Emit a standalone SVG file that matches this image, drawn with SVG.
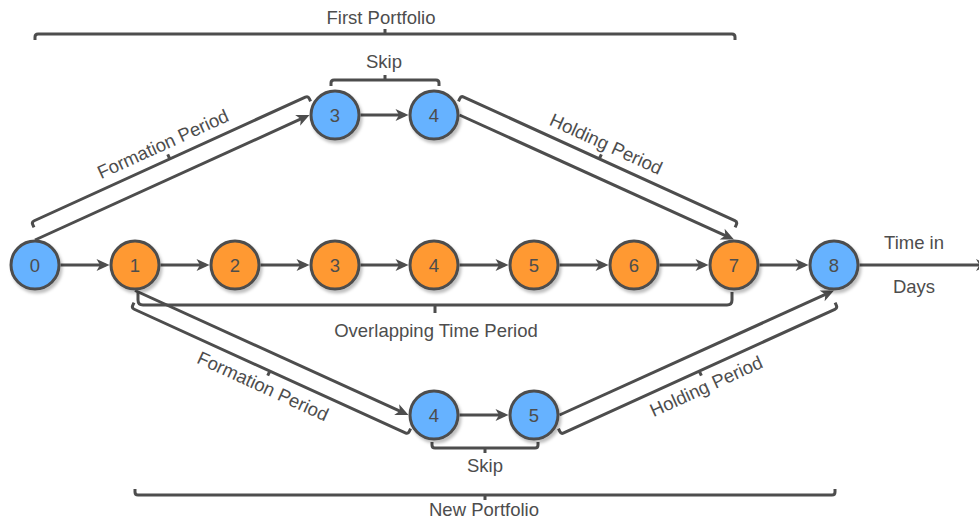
<svg xmlns="http://www.w3.org/2000/svg" width="979" height="523" viewBox="0 0 979 523">
<style>
.ln{fill:none;stroke:#4D4D4D;stroke-width:3;}
.br{fill:none;stroke:#4D4D4D;stroke-width:3;stroke-linejoin:round;}
.arr{marker-end:url(#ah);}
.t{font-family:"Liberation Sans",Arial,Helvetica,sans-serif;font-size:18.5px;fill:#4D4D4D;text-anchor:middle;}
.nb{fill:#66B2FF;stroke:#4D4D4D;stroke-width:3;filter:url(#sh);}
.no{fill:#FF9933;stroke:#4D4D4D;stroke-width:3;filter:url(#sh);}
</style>
<defs>
<marker id="ah" markerUnits="userSpaceOnUse" markerWidth="14" markerHeight="14" refX="9" refY="6" orient="auto" overflow="visible">
<path d="M0,0 L13,6 L0,12 L3.5,6 Z" fill="#4D4D4D"/>
</marker>
<filter id="sh" x="-30%" y="-30%" width="170%" height="170%">
<feDropShadow dx="2" dy="3" stdDeviation="1.4" flood-color="#000" flood-opacity="0.25"/>
</filter>
</defs>

<g id="connectors">
<line class="ln arr" x1="60.5" y1="265" x2="105.5" y2="265"/>
<line class="ln arr" x1="160.5" y1="265" x2="205.5" y2="265"/>
<line class="ln arr" x1="260.5" y1="265" x2="305.5" y2="265"/>
<line class="ln arr" x1="360.5" y1="265" x2="404.5" y2="265"/>
<line class="ln arr" x1="459.5" y1="265" x2="504.5" y2="265"/>
<line class="ln arr" x1="559.5" y1="265" x2="604.5" y2="265"/>
<line class="ln arr" x1="659.5" y1="265" x2="704.5" y2="265"/>
<line class="ln arr" x1="759.5" y1="265" x2="804.5" y2="265"/>
<line class="ln arr" x1="859.5" y1="265" x2="985" y2="265"/>
<line class="ln arr" x1="35" y1="240" x2="305.86" y2="116.66"/>
<line class="ln arr" x1="360.5" y1="115" x2="404.5" y2="115"/>
<line class="ln arr" x1="459.5" y1="115" x2="730.36" y2="237.85"/>
<line class="ln arr" x1="135" y1="290.5" x2="404.86" y2="413.34"/>
<line class="ln arr" x1="459.5" y1="415" x2="504.5" y2="415"/>
<line class="ln arr" x1="559.5" y1="415" x2="830.36" y2="292.15"/>
</g>

<g id="brackets">
<path class="br" d="M35,40 V37 Q35,34 38,34 H732 Q735,34 735,37 V40 M385,34 V29"/>
<path class="br" d="M331,86 V83 Q331,80 334,80 H436 Q439,80 439,83 V86 M385,80 V75"/>
<path class="br" d="M138,292 V300 Q138,305 143,305 H727 Q732,305 732,300 V292 M435,305 V313"/>
<path class="br" d="M432,442 V445 Q432,448 435,448 H535 Q538,448 538,445 V442 M485,448 V453"/>
<path class="br" d="M135,489 V492 Q135,495 138,495 H832 Q835,495 835,492 V489 M485,495 V500"/>
<g transform="translate(31.5,222) rotate(-24.52)">
<path class="br" d="M0,6 V3 Q0,0 3,0 H301 Q304,0 304,3 V6 M152,0 V-5"/>
<text class="t" x="152" y="-10">Formation Period</text>
</g>
<g transform="translate(461,95.8) rotate(24.52)">
<path class="br" d="M0,6 V3 Q0,0 3,0 H301 Q304,0 304,3 V6 M152,0 V-5"/>
<text class="t" x="152" y="-10">Holding Period</text>
</g>
<g transform="translate(131.5,308) rotate(24.52)">
<path class="br" d="M0,-6 V-3 Q0,0 3,0 H301 Q304,0 304,-3 V-6 M152,0 V5"/>
<text class="t" x="152" y="23">Formation Period</text>
</g>
<g transform="translate(561,434.2) rotate(-24.52)">
<path class="br" d="M0,-6 V-3 Q0,0 3,0 H301 Q304,0 304,-3 V-6 M152,0 V5"/>
<text class="t" x="152" y="23">Holding Period</text>
</g>
</g>

<g id="labels">
<text class="t" x="381" y="24">First Portfolio</text>
<text class="t" x="384" y="68">Skip</text>
<text class="t" x="436" y="337">Overlapping Time Period</text>
<text class="t" x="485" y="472">Skip</text>
<text class="t" x="484" y="516">New Portfolio</text>
<text class="t" x="914" y="249">Time in</text>
<text class="t" x="914" y="293">Days</text>
</g>

<g id="n0"><circle class="nb" cx="35" cy="265" r="24"/><text class="t" x="35" y="271.5">0</text></g>
<g id="n1"><circle class="no" cx="135" cy="265" r="24"/><text class="t" x="135" y="271.5">1</text></g>
<g id="n2"><circle class="no" cx="235" cy="265" r="24"/><text class="t" x="235" y="271.5">2</text></g>
<g id="n3"><circle class="no" cx="335" cy="265" r="24"/><text class="t" x="335" y="271.5">3</text></g>
<g id="n4"><circle class="no" cx="434" cy="265" r="24"/><text class="t" x="434" y="271.5">4</text></g>
<g id="n5"><circle class="no" cx="534" cy="265" r="24"/><text class="t" x="534" y="271.5">5</text></g>
<g id="n6"><circle class="no" cx="634" cy="265" r="24"/><text class="t" x="634" y="271.5">6</text></g>
<g id="n7"><circle class="no" cx="734" cy="265" r="24"/><text class="t" x="734" y="271.5">7</text></g>
<g id="n8"><circle class="nb" cx="834" cy="265" r="24"/><text class="t" x="834" y="271.5">8</text></g>
<g id="t3"><circle class="nb" cx="335" cy="115" r="24"/><text class="t" x="335" y="121.5">3</text></g>
<g id="t4"><circle class="nb" cx="434" cy="115" r="24"/><text class="t" x="434" y="121.5">4</text></g>
<g id="b4"><circle class="nb" cx="434" cy="415" r="24"/><text class="t" x="434" y="421.5">4</text></g>
<g id="b5"><circle class="nb" cx="534" cy="415" r="24"/><text class="t" x="534" y="421.5">5</text></g>
</svg>
